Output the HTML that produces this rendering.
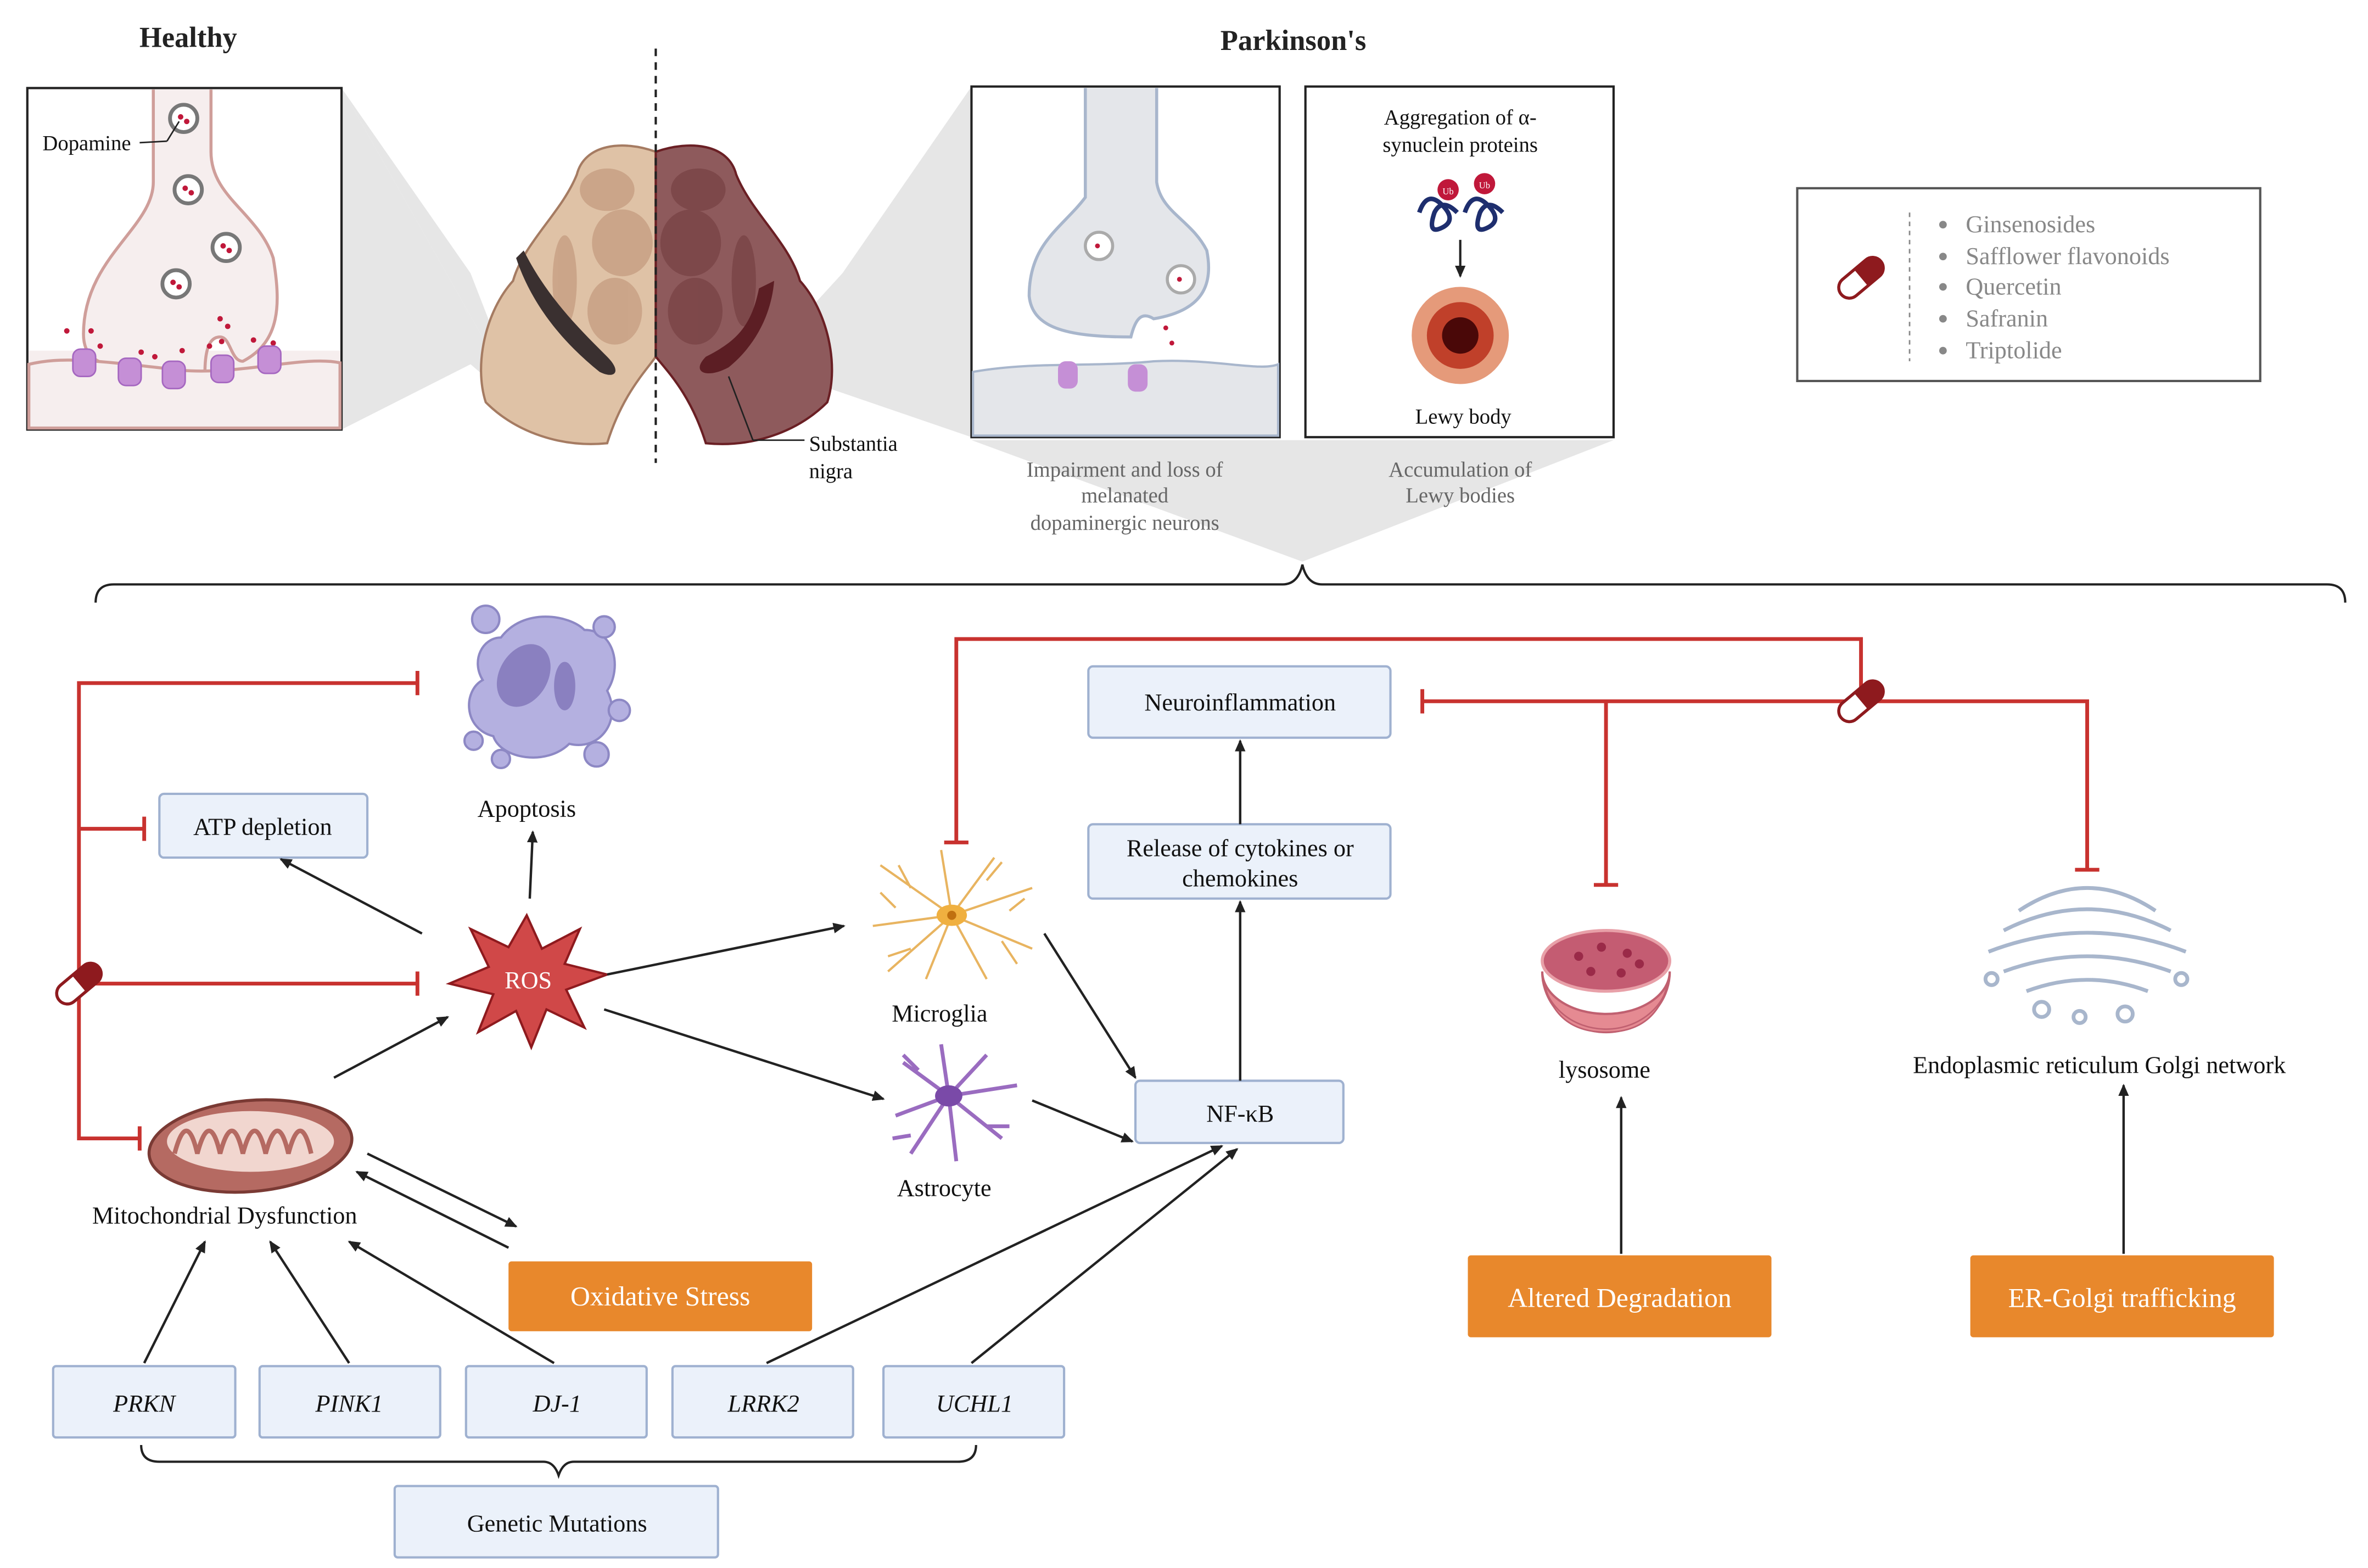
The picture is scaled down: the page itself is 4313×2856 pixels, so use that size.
<!DOCTYPE html>
<html><head><meta charset="utf-8"><style>
html,body{margin:0;padding:0;background:#fff;width:4313px;height:2856px;overflow:hidden}
svg{display:block}
text{font-family:"Liberation Serif",serif}
</style></head><body>
<svg width="4313" height="2856" viewBox="0 0 1560 1033" xmlns="http://www.w3.org/2000/svg">
<defs>
<marker id="ah" markerWidth="8" markerHeight="8" refX="7" refY="4" orient="auto" markerUnits="userSpaceOnUse"><path d="M0,0.5 L8,4 L0,7.5z" fill="#222"/></marker>
</defs>
<!-- top titles -->
<text x="124" y="31" font-size="19" text-anchor="middle" font-weight="bold" fill="#222">Healthy</text>
<text x="852" y="33" font-size="19" text-anchor="middle" font-weight="bold" fill="#222">Parkinson's</text>

<!-- gray zoom shadows -->
<polygon points="225,58 225,283 310,240 345,270" fill="#e6e6e6"/>
<polygon points="225,58 345,270 310,180" fill="#e6e6e6"/>
<polygon points="640,57 640,288 500,240 555,180" fill="#e6e6e6"/>
<polygon points="640,290 1063,290 858,370" fill="#e6e6e6"/>

<!-- Healthy box -->
<rect x="18" y="58" width="207" height="225" fill="#f6eeee" stroke="#222" stroke-width="1.5"/>
<rect x="19" y="59" width="205" height="172" fill="#fff"/>
<path d="M101,59 L101,120 C101,150 55,170 55,220 C55,240 70,244 120,246 L135,246 C135,230 138,222 145,222 C152,222 152,238 160,238 C185,225 185,200 180,170 C170,140 139,130 139,100 L139,59" fill="#f6eeee" stroke="#cf9e9a" stroke-width="2"/>
<path d="M19,240 C40,235 60,237 120,244 C160,247 200,234 224,239 L224,282 L19,282z" fill="#f6eeee" stroke="#cf9e9a" stroke-width="2"/>
<g fill="#fff" stroke="#777" stroke-width="2.5">
<circle cx="121" cy="78" r="9"/><circle cx="124" cy="125" r="9"/><circle cx="149" cy="163" r="9"/><circle cx="116" cy="187" r="9"/></g>
<g fill="#c0183a"><circle cx="119" cy="77" r="1.8"/><circle cx="123" cy="80" r="1.8"/><circle cx="122" cy="124" r="1.8"/><circle cx="126" cy="127" r="1.8"/><circle cx="147" cy="162" r="1.8"/><circle cx="151" cy="165" r="1.8"/><circle cx="114" cy="186" r="1.8"/><circle cx="118" cy="189" r="1.8"/>
<circle cx="145" cy="210" r="1.8"/><circle cx="150" cy="215" r="1.8"/><circle cx="44" cy="218" r="1.8"/><circle cx="60" cy="218" r="1.8"/><circle cx="66" cy="228" r="1.8"/><circle cx="93" cy="232" r="1.8"/><circle cx="102" cy="235" r="1.8"/><circle cx="120" cy="231" r="1.8"/><circle cx="138" cy="228" r="1.8"/><circle cx="146" cy="225" r="1.8"/><circle cx="167" cy="224" r="1.8"/><circle cx="180" cy="226" r="1.8"/></g>
<g fill="#c58fd6" stroke="#a567c0" stroke-width="1">
<rect x="48" y="230" width="15" height="18" rx="5"/><rect x="78" y="236" width="15" height="18" rx="5"/><rect x="107" y="238" width="15" height="18" rx="5"/><rect x="139" y="234" width="15" height="18" rx="5"/><rect x="170" y="228" width="15" height="18" rx="5"/></g>
<text x="28" y="99" font-size="14" fill="#111">Dopamine</text>
<line x1="92" y1="94" x2="110" y2="93" stroke="#222"/><line x1="110" y1="93" x2="118" y2="80" stroke="#222"/>

<!-- brain -->
<path d="M432,100 C410,92 385,95 380,115 C370,140 345,160 338,185 C320,205 312,240 320,265 C340,285 370,295 400,292 C410,260 425,245 432,235 Z" fill="#dfc2a6" stroke="#a57b62" stroke-width="1.5"/>
<path d="M432,100 C455,92 480,95 485,115 C495,140 520,160 527,185 C545,205 553,240 545,265 C525,285 495,295 465,292 C455,260 440,245 432,235 Z" fill="#8e5a5c" stroke="#6a1f24" stroke-width="1.5"/>
<g fill="#c79f83" opacity="0.8"><ellipse cx="400" cy="125" rx="18" ry="14"/><ellipse cx="410" cy="160" rx="20" ry="22"/><ellipse cx="405" cy="205" rx="18" ry="22"/><ellipse cx="372" cy="185" rx="8" ry="30"/></g>
<g fill="#7a4446" opacity="0.8"><ellipse cx="460" cy="125" rx="18" ry="14"/><ellipse cx="455" cy="160" rx="20" ry="22"/><ellipse cx="458" cy="205" rx="18" ry="22"/><ellipse cx="490" cy="185" rx="8" ry="30"/></g>
<path d="M340,170 C350,200 370,225 395,245 C405,250 410,245 400,235 C380,215 360,195 345,165z" fill="#3a3030"/>
<path d="M500,190 C495,215 485,225 465,235 C455,245 465,250 480,242 C495,230 508,210 510,185z" fill="#5c1e24"/>
<line x1="432" y1="32" x2="432" y2="305" stroke="#222" stroke-width="1.5" stroke-dasharray="5,4"/>
<line x1="480" y1="248" x2="496" y2="290" stroke="#222"/><line x1="496" y1="290" x2="530" y2="290" stroke="#222"/>
<text x="533" y="297" font-size="14" fill="#111">Substantia</text>
<text x="533" y="315" font-size="14" fill="#111">nigra</text>

<!-- PD box 1 -->
<rect x="640" y="57" width="203" height="231" fill="#fff" stroke="#222" stroke-width="1.5"/>
<path d="M641,245 C680,238 720,242 760,238 C800,236 830,245 842,240 L842,287 L641,287z" fill="#e4e6ea" stroke="#a8b6cc" stroke-width="1.5"/>
<path d="M715,58 L715,130 C700,150 678,160 678,195 C680,215 700,222 745,222 C748,210 752,205 760,210 C790,205 800,190 795,165 C785,145 765,140 762,120 L762,58" fill="#e4e6ea" stroke="#a8b6cc" stroke-width="2"/>
<g fill="#fff" stroke="#aaa" stroke-width="2"><circle cx="724" cy="162" r="9"/><circle cx="778" cy="184" r="9"/></g>
<g fill="#c0183a"><circle cx="723" cy="162" r="1.6"/><circle cx="777" cy="184" r="1.6"/><circle cx="768" cy="216" r="1.6"/><circle cx="772" cy="226" r="1.6"/></g>
<rect x="697" y="238" width="13" height="18" rx="5" fill="#c58fd6"/><rect x="743" y="240" width="13" height="18" rx="5" fill="#c58fd6"/>

<!-- PD box 2 -->
<rect x="860" y="57" width="203" height="231" fill="#fff" stroke="#222" stroke-width="1.5"/>
<text x="962" y="82" font-size="14" text-anchor="middle" fill="#111">Aggregation of α-</text>
<text x="962" y="100" font-size="14" text-anchor="middle" fill="#111">synuclein proteins</text>
<g fill="none" stroke="#1e2e6e" stroke-width="3"><path d="M935,140 q5,-15 15,-5 q10,10 0,15 q-10,5 -5,-10 q5,-10 15,0"/><path d="M965,140 q5,-15 15,-5 q10,10 0,15 q-10,5 -5,-10 q5,-10 15,0"/></g>
<circle cx="954" cy="125" r="7" fill="#c0183a"/><circle cx="978" cy="121" r="7" fill="#c0183a"/>
<text x="954" y="128" font-size="6" text-anchor="middle" fill="#fff">Ub</text><text x="978" y="124" font-size="6" text-anchor="middle" fill="#fff">Ub</text>
<line x1="962" y1="158" x2="962" y2="182" stroke="#222" stroke-width="1.5" marker-end="url(#ah)"/>
<circle cx="962" cy="221" r="32" fill="#e59a7a"/><circle cx="962" cy="221" r="22" fill="#c0402a"/><circle cx="962" cy="221" r="12" fill="#4a0808"/>
<text x="964" y="279" font-size="14" text-anchor="middle" fill="#111">Lewy body</text>

<text font-size="14" fill="#666" text-anchor="middle"><tspan x="741" y="314">Impairment and loss of</tspan><tspan x="741" y="331">melanated</tspan><tspan x="741" y="349">dopaminergic neurons</tspan></text>
<text font-size="14" fill="#666" text-anchor="middle"><tspan x="962" y="314">Accumulation of</tspan><tspan x="962" y="331">Lewy bodies</tspan></text>

<!-- big brace -->
<path d="M63,397 Q63,385 75,385 L845,385 Q855,385 858,372 Q861,385 871,385 L1533,385 Q1545,385 1545,397" fill="none" stroke="#222" stroke-width="1.5"/>

<!-- legend -->
<rect x="1184" y="124" width="305" height="127" fill="#fff" stroke="#555" stroke-width="1.5"/>
<g transform="translate(1226,183) rotate(-40)"><rect x="-17" y="-7" width="34" height="14" rx="7" fill="#fff" stroke="#8e1a1e" stroke-width="2"/><path d="M0,-7 L10,-7 A7,7 0 0 1 10,7 L0,7z" fill="#8e1a1e"/></g>
<line x1="1258" y1="140" x2="1258" y2="238" stroke="#888" stroke-dasharray="3,3"/>
<g fill="#888"><circle cx="1280" cy="148" r="2.5"/><circle cx="1280" cy="169" r="2.5"/><circle cx="1280" cy="189" r="2.5"/><circle cx="1280" cy="210" r="2.5"/><circle cx="1280" cy="231" r="2.5"/></g>
<g font-size="16" fill="#888"><text x="1295" y="153">Ginsenosides</text><text x="1295" y="174">Safflower flavonoids</text><text x="1295" y="194">Quercetin</text><text x="1295" y="215">Safranin</text><text x="1295" y="236">Triptolide</text></g>

<!-- red inhibition lines -->
<g stroke="#c8322f" stroke-width="2.5" fill="none">
<polyline points="275,450 52,450 52,750 92,750"/>
<line x1="52" y1="546" x2="95" y2="546"/>
<line x1="52" y1="648" x2="275" y2="648"/>
<line x1="275" y1="442" x2="275" y2="458"/><line x1="95" y1="538" x2="95" y2="554"/><line x1="275" y1="640" x2="275" y2="656"/><line x1="92" y1="742" x2="92" y2="758"/>
<polyline points="1226,462 1226,421 630,421 630,555"/><line x1="622" y1="555" x2="638" y2="555"/>
<polyline points="937,462 1375,462 1375,573"/><line x1="937" y1="454" x2="937" y2="470"/><line x1="1367" y1="573" x2="1383" y2="573"/>
<line x1="1058" y1="462" x2="1058" y2="583"/><line x1="1050" y1="583" x2="1066" y2="583"/>
</g>
<g transform="translate(52,648) rotate(-40)"><rect x="-17" y="-7" width="34" height="14" rx="7" fill="#fff" stroke="#8e1a1e" stroke-width="2"/><path d="M0,-7 L10,-7 A7,7 0 0 1 10,7 L0,7z" fill="#8e1a1e"/></g>
<g transform="translate(1226,462) rotate(-40)"><rect x="-17" y="-7" width="34" height="14" rx="7" fill="#fff" stroke="#8e1a1e" stroke-width="2"/><path d="M0,-7 L10,-7 A7,7 0 0 1 10,7 L0,7z" fill="#8e1a1e"/></g>

<!-- apoptosis -->
<g fill="#b4b0e0" stroke="#8d88c4" stroke-width="1.5">
<path d="M330,420 C345,400 375,405 385,415 C405,415 410,440 400,455 C410,475 395,495 375,490 C360,505 330,500 325,485 C305,480 305,455 318,448 C310,435 318,420 330,420z"/>
<circle cx="320" cy="408" r="9"/><circle cx="398" cy="413" r="7"/><circle cx="408" cy="468" r="7"/><circle cx="393" cy="497" r="8"/><circle cx="312" cy="488" r="6"/><circle cx="330" cy="500" r="6"/></g>
<ellipse cx="345" cy="445" rx="16" ry="22" fill="#8a80c0" transform="rotate(30 345 445)"/>
<ellipse cx="372" cy="452" rx="7" ry="16" fill="#8a80c0"/>
<text x="347" y="538" font-size="16" text-anchor="middle" fill="#111">Apoptosis</text>

<!-- ROS star -->
<polygon points="347,603 357,625 382,612 372,635 400,642 373,652 385,677 360,665 350,690 340,666 315,680 325,655 296,648 322,637 310,612 335,624" fill="#d04848" stroke="#8e1a1e" stroke-width="1.5"/>
<text x="348" y="651" font-size="16" text-anchor="middle" fill="#fff">ROS</text>

<!-- mitochondria -->
<ellipse cx="165" cy="755" rx="67" ry="30" fill="#b56a62" stroke="#7a3a34" stroke-width="2" transform="rotate(-5 165 755)"/>
<ellipse cx="165" cy="752" rx="55" ry="20" fill="#f1d6cf"/>
<path d="M115,760 q8,-30 15,0 q8,-30 15,0 q8,-30 15,0 q8,-30 15,0 q8,-30 15,0 q8,-30 15,0" fill="none" stroke="#b56a62" stroke-width="3"/>
<text x="148" y="806" font-size="16" text-anchor="middle" fill="#111">Mitochondrial Dysfunction</text>

<!-- boxes -->
<g fill="#ebf1fa" stroke="#9fb1d0" stroke-width="1.5">
<rect x="105" y="523" width="137" height="42" rx="3"/>
<rect x="717" y="439" width="199" height="47" rx="3"/>
<rect x="717" y="543" width="199" height="49" rx="3"/>
<rect x="748" y="712" width="137" height="41" rx="3"/>
<rect x="35" y="900" width="120" height="47" rx="2"/>
<rect x="171" y="900" width="119" height="47" rx="2"/>
<rect x="307" y="900" width="119" height="47" rx="2"/>
<rect x="443" y="900" width="119" height="47" rx="2"/>
<rect x="582" y="900" width="119" height="47" rx="2"/>
<rect x="260" y="979" width="213" height="47" rx="2"/>
</g>
<g font-size="16" fill="#111" text-anchor="middle">
<text x="173" y="550">ATP depletion</text>
<text x="817" y="468">Neuroinflammation</text>
<text x="817" y="564">Release of cytokines or</text>
<text x="817" y="584">chemokines</text>
<text x="817" y="739">NF-κB</text>
<text x="367" y="1009">Genetic Mutations</text>
<g font-style="italic"><text x="95" y="930">PRKN</text><text x="230" y="930">PINK1</text><text x="367" y="930">DJ-1</text><text x="503" y="930">LRRK2</text><text x="642" y="930">UCHL1</text></g>
</g>

<!-- orange boxes -->
<g fill="#e8882c"><rect x="335" y="831" width="200" height="46" rx="2"/><rect x="967" y="827" width="200" height="54" rx="2"/><rect x="1298" y="827" width="200" height="54" rx="2"/></g>
<g font-size="18" fill="#fff" text-anchor="middle"><text x="435" y="860">Oxidative Stress</text><text x="1067" y="861">Altered Degradation</text><text x="1398" y="861">ER-Golgi trafficking</text></g>

<!-- microglia & astrocyte -->
<g stroke="#e8b460" stroke-width="1.5" fill="none">
<path d="M627,603 L580,570 M627,603 L575,610 M627,603 L585,640 M627,603 L610,645 M627,603 L650,645 M627,603 L680,625 M627,603 L680,585 M627,603 L655,565 M627,603 L620,560 M600,585 l-8,-15 M650,580 l10,-12 M600,625 l-15,5 M660,620 l10,15 M590,598 l-10,-10 M665,600 l10,-8"/></g>
<ellipse cx="627" cy="603" rx="10" ry="7" fill="#f0b040"/><circle cx="627" cy="603" r="3" fill="#c07010"/>
<text x="619" y="673" font-size="16" text-anchor="middle" fill="#111">Microglia</text>
<g stroke="#9a6cc0" stroke-width="2.5" fill="none">
<path d="M625,722 L595,700 M625,722 L590,735 M625,722 L600,760 M625,722 L630,765 M625,722 L660,750 M625,722 L670,715 M625,722 L650,695 M625,722 L620,688 M605,705 l-10,-10 M650,742 l15,0 M600,748 l-12,2"/></g>
<ellipse cx="625" cy="722" rx="9" ry="7" fill="#7a4aa8"/>
<text x="622" y="788" font-size="16" text-anchor="middle" fill="#111">Astrocyte</text>

<!-- lysosome -->
<path d="M1016,640 A42,28 0 0 0 1100,640 A42,40 0 0 1 1016,640z" fill="#e58a92" stroke="#c06070" stroke-width="1.5"/>
<path d="M1016,640 A42,38 0 0 0 1100,640 L1100,640 Q1095,680 1058,680 Q1021,680 1016,640z" fill="#e58a92" stroke="#c06070"/>
<ellipse cx="1058" cy="633" rx="42" ry="20" fill="#c45c72" stroke="#e8a0a8" stroke-width="2"/>
<g fill="#9a2a48"><circle cx="1040" cy="630" r="3"/><circle cx="1055" cy="624" r="3"/><circle cx="1072" cy="628" r="3"/><circle cx="1048" cy="640" r="3"/><circle cx="1068" cy="641" r="3"/><circle cx="1080" cy="635" r="3"/></g>
<text x="1057" y="710" font-size="16" text-anchor="middle" fill="#111">lysosome</text>

<!-- ER Golgi -->
<g fill="none" stroke="#a8b6cc" stroke-width="2.5">
<path d="M1330,600 q45,-30 90,0"/><path d="M1320,613 q55,-28 110,0"/><path d="M1310,627 q65,-25 130,0"/><path d="M1320,640 q55,-20 110,0"/><path d="M1335,653 q40,-15 80,0"/>
<circle cx="1345" cy="665" r="5"/><circle cx="1400" cy="668" r="5"/><circle cx="1437" cy="645" r="4"/><circle cx="1312" cy="645" r="4"/><circle cx="1370" cy="670" r="4"/></g>
<text x="1383" y="707" font-size="16" text-anchor="middle" fill="#111">Endoplasmic reticulum Golgi network</text>

<!-- black arrows -->
<g stroke="#222" stroke-width="1.6" marker-end="url(#ah)">
<line x1="349" y1="592" x2="351" y2="548"/>
<line x1="278" y1="615" x2="185" y2="566"/>
<line x1="220" y1="710" x2="295" y2="670"/>
<line x1="400" y1="642" x2="556" y2="610"/>
<line x1="398" y1="665" x2="582" y2="724"/>
<line x1="688" y1="615" x2="748" y2="710"/>
<line x1="680" y1="725" x2="746" y2="752"/>
<line x1="817" y1="712" x2="817" y2="594"/>
<line x1="817" y1="543" x2="817" y2="488"/>
<line x1="242" y1="760" x2="340" y2="808"/>
<line x1="335" y1="822" x2="235" y2="772"/>
<line x1="95" y1="898" x2="135" y2="818"/>
<line x1="230" y1="898" x2="178" y2="818"/>
<line x1="365" y1="898" x2="230" y2="818"/>
<line x1="505" y1="898" x2="805" y2="755"/>
<line x1="640" y1="898" x2="815" y2="757"/>
<line x1="1068" y1="826" x2="1068" y2="723"/>
<line x1="1399" y1="826" x2="1399" y2="715"/>
</g>

<!-- lower brace -->
<path d="M93,952 Q93,963 105,963 L358,963 Q365,963 368,972 Q371,963 378,963 L631,963 Q643,963 643,952" fill="none" stroke="#222" stroke-width="1.5"/>
</svg>
</body></html>
